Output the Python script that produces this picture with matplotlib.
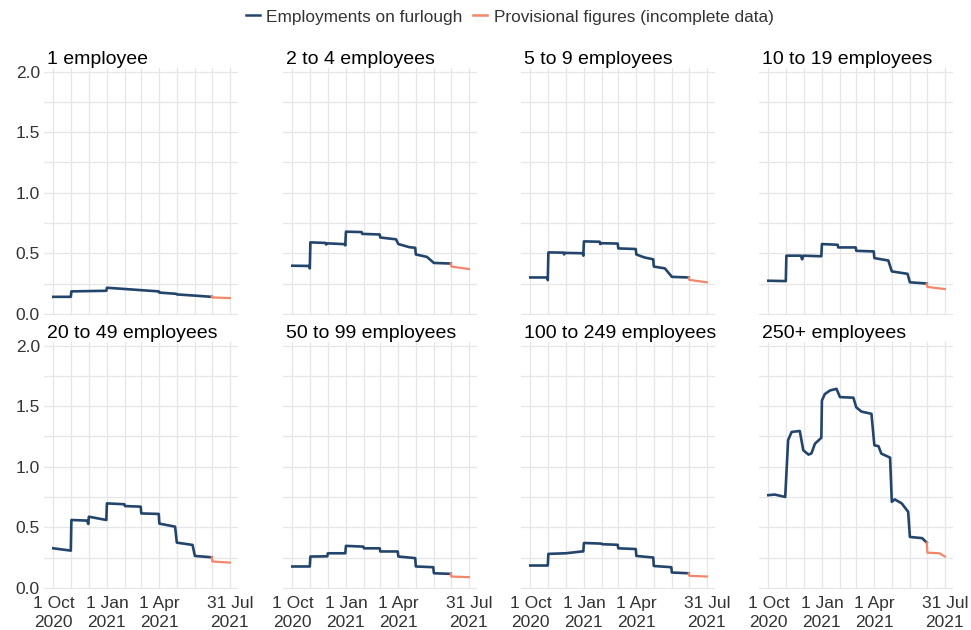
import pandas as pd
import matplotlib.pyplot as plt
from matplotlib.lines import Line2D

plt.rcParams['font.family'] = ['Liberation Sans', 'DejaVu Sans']

titles = ["1 employee", "2 to 4 employees", "5 to 9 employees", "10 to 19 employees",
          "20 to 49 employees", "50 to 99 employees", "100 to 249 employees", "250+ employees"]

# employments on furlough (millions)
dates_1 = ["2020-10-01", "2020-10-31", "2020-11-01", "2020-12-31", "2021-01-01", "2021-01-31",
           "2021-03-01", "2021-03-31", "2021-04-01", "2021-04-30", "2021-05-01", "2021-06-01",
           "2021-06-30", "2021-07-01", "2021-07-31"]
vals_1 = [0.14, 0.14, 0.185, 0.19, 0.215, 0.205, 0.195, 0.185, 0.175, 0.165, 0.16, 0.15,
          0.14, 0.135, 0.13]

dates_2 = ["2020-10-01", "2020-10-30", "2020-10-31", "2020-11-01", "2020-11-27", "2020-11-28",
           "2020-11-29", "2020-12-30", "2020-12-31", "2021-01-01", "2021-01-28", "2021-01-29",
           "2021-02-28", "2021-03-01", "2021-03-28", "2021-04-01", "2021-04-20", "2021-04-30",
           "2021-05-01", "2021-05-20", "2021-06-01", "2021-06-30", "2021-07-01", "2021-07-31"]
vals_2 = [0.397, 0.395, 0.375, 0.59, 0.585, 0.572, 0.582, 0.575, 0.565, 0.678, 0.675, 0.66,
          0.655, 0.63, 0.615, 0.576, 0.55, 0.545, 0.49, 0.47, 0.42, 0.415, 0.39, 0.37]

dates_3 = ["2020-10-01", "2020-10-30", "2020-10-31", "2020-11-01", "2020-11-27", "2020-11-28",
           "2020-11-29", "2020-12-30", "2020-12-31", "2021-01-01", "2021-01-28", "2021-01-29",
           "2021-01-30", "2021-02-28", "2021-03-01", "2021-03-31", "2021-04-01", "2021-04-15",
           "2021-04-30", "2021-05-01", "2021-05-20", "2021-06-01", "2021-06-30", "2021-07-01",
           "2021-07-31"]
vals_3 = [0.30, 0.30, 0.278, 0.507, 0.505, 0.49, 0.503, 0.50, 0.48, 0.598, 0.595, 0.576,
          0.583, 0.58, 0.54, 0.535, 0.49, 0.465, 0.45, 0.39, 0.375, 0.305, 0.30, 0.28, 0.26]

dates_4 = ["2020-10-01", "2020-10-31", "2020-11-01", "2020-11-26", "2020-11-28", "2020-11-30",
           "2020-12-31", "2021-01-01", "2021-01-28", "2021-01-29", "2021-02-28", "2021-03-01",
           "2021-03-31", "2021-04-01", "2021-04-25", "2021-05-01", "2021-05-28", "2021-06-01",
           "2021-06-30", "2021-07-01", "2021-07-31"]
vals_4 = [0.273, 0.27, 0.48, 0.48, 0.45, 0.48, 0.475, 0.576, 0.57, 0.548, 0.548, 0.52,
          0.515, 0.46, 0.44, 0.35, 0.33, 0.26, 0.25, 0.222, 0.204]

dates_5 = ["2020-10-01", "2020-10-31", "2020-11-01", "2020-11-28", "2020-11-30", "2020-12-01",
           "2020-12-31", "2021-01-01", "2021-01-31", "2021-02-01", "2021-02-28", "2021-03-01",
           "2021-03-31", "2021-04-01", "2021-04-28", "2021-05-01", "2021-05-28", "2021-06-01",
           "2021-06-30", "2021-07-01", "2021-07-31"]
vals_5 = [0.326, 0.307, 0.56, 0.555, 0.527, 0.587, 0.56, 0.697, 0.69, 0.675, 0.67, 0.614,
          0.61, 0.53, 0.505, 0.373, 0.354, 0.263, 0.252, 0.217, 0.208]

dates_6 = ["2020-10-01", "2020-10-31", "2020-11-01", "2020-11-30", "2020-12-01", "2020-12-31",
           "2021-01-01", "2021-01-31", "2021-02-01", "2021-02-28", "2021-03-01", "2021-03-31",
           "2021-04-01", "2021-04-30", "2021-05-01", "2021-05-31", "2021-06-01", "2021-06-30",
           "2021-07-01", "2021-07-31"]
vals_6 = [0.176, 0.176, 0.258, 0.26, 0.285, 0.285, 0.346, 0.34, 0.326, 0.326, 0.30, 0.30,
          0.258, 0.245, 0.176, 0.17, 0.12, 0.115, 0.093, 0.088]

dates_7 = ["2020-10-01", "2020-10-31", "2020-11-01", "2020-11-30", "2020-12-01", "2020-12-28",
           "2020-12-31", "2021-01-01", "2021-01-31", "2021-02-01", "2021-02-28", "2021-03-01",
           "2021-03-31", "2021-04-01", "2021-04-30", "2021-05-01", "2021-05-31", "2021-06-01",
           "2021-06-30", "2021-07-01", "2021-07-31"]
vals_7 = [0.184, 0.184, 0.28, 0.285, 0.285, 0.30, 0.30, 0.37, 0.365, 0.36, 0.355, 0.326,
          0.32, 0.263, 0.25, 0.18, 0.17, 0.126, 0.12, 0.099, 0.093]

dates_8 = ["2020-10-01", "2020-10-12", "2020-10-30", "2020-11-01", "2020-11-04", "2020-11-10",
           "2020-11-24", "2020-11-30", "2020-12-09", "2020-12-14", "2020-12-20", "2020-12-29",
           "2020-12-31", "2021-01-01", "2021-01-06", "2021-01-15", "2021-01-26", "2021-02-01",
           "2021-02-24", "2021-03-01", "2021-03-10", "2021-03-27", "2021-04-01", "2021-04-08",
           "2021-04-13", "2021-04-28", "2021-05-01", "2021-05-06", "2021-05-18", "2021-05-29",
           "2021-06-01", "2021-06-22", "2021-06-30", "2021-07-01", "2021-07-22", "2021-07-31"]
vals_8 = [0.765, 0.77, 0.75, 0.94, 1.22, 1.287, 1.295, 1.136, 1.10, 1.11, 1.19, 1.23,
          1.24, 1.547, 1.60, 1.63, 1.643, 1.575, 1.57, 1.49, 1.455, 1.437, 1.177, 1.17,
          1.108, 1.075, 0.71, 0.73, 0.697, 0.628, 0.42, 0.41, 0.373, 0.29, 0.285, 0.258]

all_dates = [dates_1, dates_2, dates_3, dates_4, dates_5, dates_6, dates_7, dates_8]
all_vals = [vals_1, vals_2, vals_3, vals_4, vals_5, vals_6, vals_7, vals_8]

provisional_from = pd.Timestamp("2021-06-30")
tick_dates = ["2020-10-01", "2021-01-01", "2021-04-01", "2021-07-31"]
tick_labels = ["1 Oct\n2020", "1 Jan\n2021", "1 Apr\n2021", "31 Jul\n2021"]
month_lines = pd.date_range("2020-10-01", "2021-07-01", freq="MS")

blue = "#23456c"
orange = "#f4866a"

W, H = 971, 630
fig = plt.figure(figsize=(W / 100, H / 100), dpi=100)

lefts = [44, 283, 521, 759]
tops = [68, 342]
aw, ah = 194, 247

for i in range(8):
    r, c = divmod(i, 4)
    ax = fig.add_axes([lefts[c] / W, 1 - (tops[r] + ah) / H, aw / W, ah / H])
    d = pd.to_datetime(pd.Series(all_dates[i]))
    v = pd.Series(all_vals[i])
    firm = d <= provisional_from
    prov = d >= provisional_from
    ax.plot(d[firm], v[firm], color=blue, lw=1.9, solid_joinstyle='round')
    ax.plot(d[prov], v[prov], color=orange, lw=1.6)

    ax.set_xlim(pd.Timestamp("2020-09-15"), pd.Timestamp("2021-08-14"))
    ax.set_ylim(-0.01, 2.03)
    ax.set_yticks([0, 0.5, 1.0, 1.5, 2.0])
    ax.set_yticks([0.25, 0.75, 1.25, 1.75], minor=True)
    ax.set_xticks(pd.to_datetime(tick_dates))
    ax.set_xticks(month_lines, minor=True)
    ax.grid(True, which='both', color='#e6e6e6', lw=0.9)
    ax.set_axisbelow(True)
    for s in ax.spines.values():
        s.set_visible(False)
    ax.tick_params(which='both', length=0, labelsize=12.5, colors='#333333')
    ax.tick_params(axis='x', pad=5)
    ax.tick_params(axis='y', pad=3)

    if c == 0:
        ax.set_yticklabels(["0.0", "0.5", "1.0", "1.5", "2.0"])
    else:
        ax.set_yticklabels([])
    if r == 1:
        ax.set_xticklabels(tick_labels, linespacing=1.3)
    else:
        ax.set_xticklabels([])

    ax.set_title(titles[i], loc='left', fontsize=14, pad=1, color='black', x=0.015)

handles = [Line2D([0], [0], color=blue, lw=1.8), Line2D([0], [0], color=orange, lw=1.8)]
fig.legend(handles, ["Employments on furlough", "Provisional figures (incomplete data)"],
           loc='center', bbox_to_anchor=(0.525, 1 - 17 / H), ncol=2, frameon=False,
           fontsize=12.4, handlelength=0.8, handletextpad=0.4, columnspacing=0.6,
           labelcolor='#333333')

fig.savefig("out.png", dpi=100)
